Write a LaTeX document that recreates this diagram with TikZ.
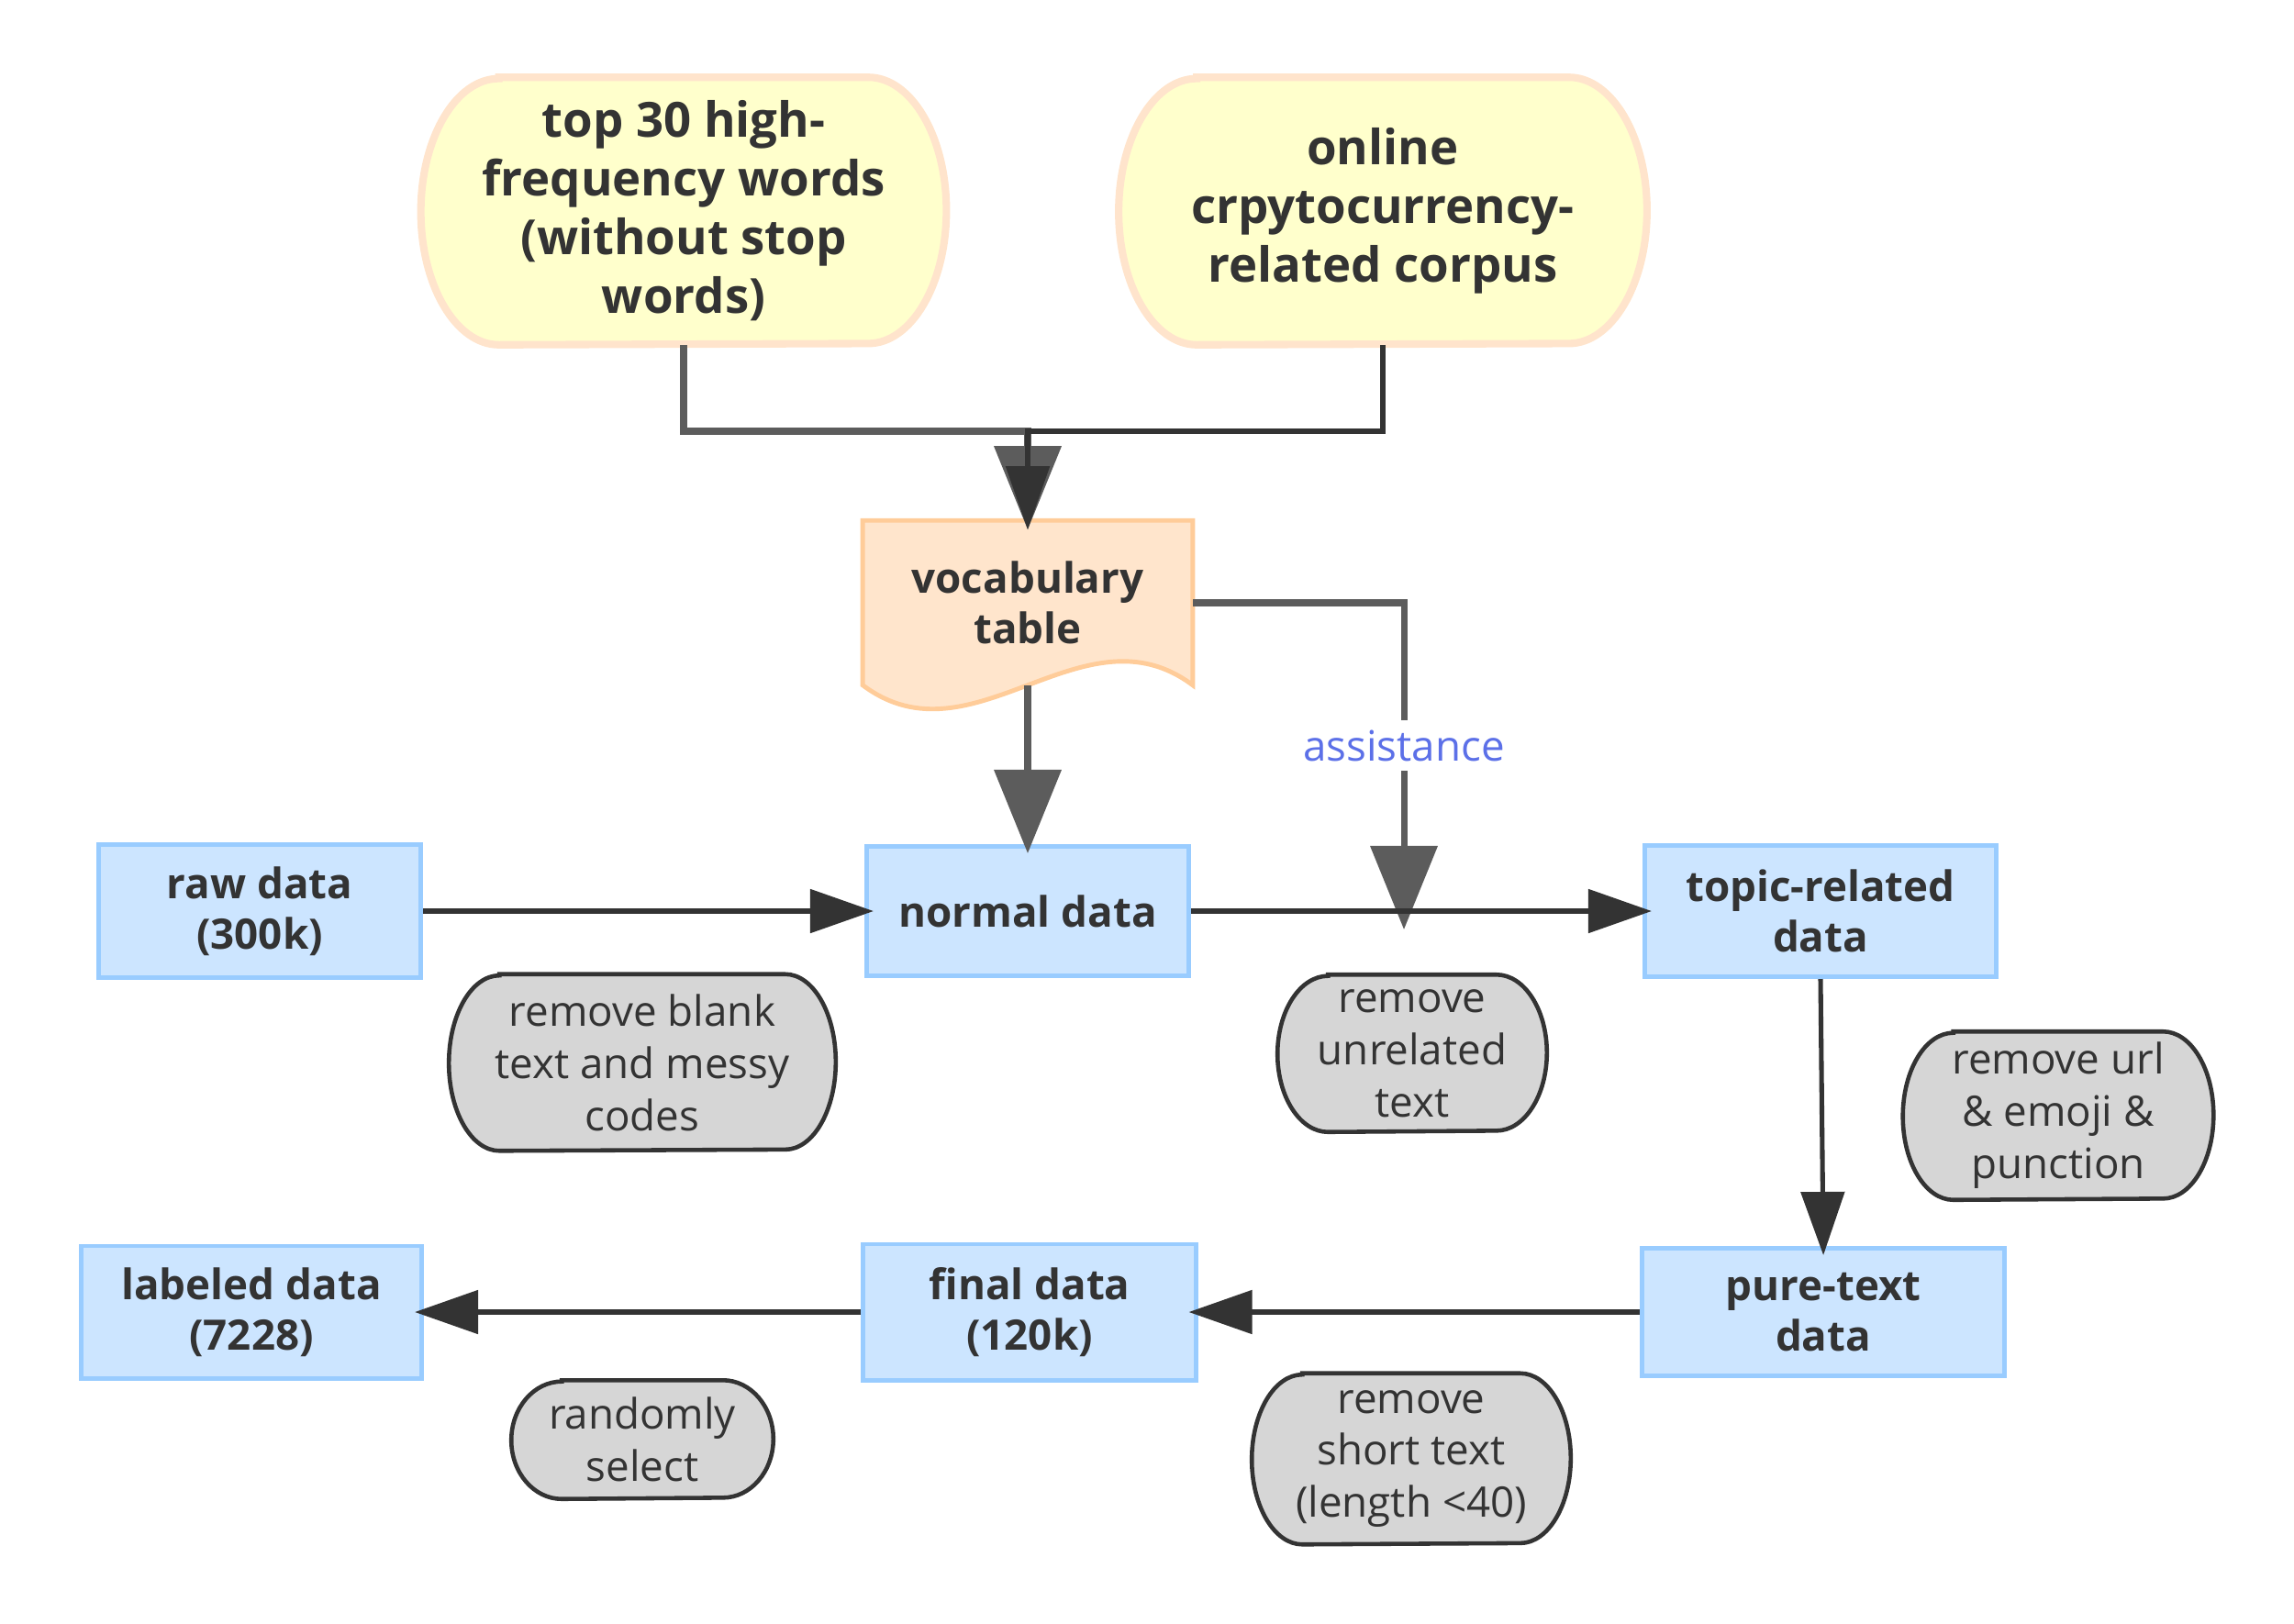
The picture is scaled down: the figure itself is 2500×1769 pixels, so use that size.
\documentclass[tikz,border=0pt]{standalone}
\usepackage{fontspec}
\setmainfont{Open Sans}
\usetikzlibrary{arrows.meta, backgrounds}
\definecolor{txt}{HTML}{333333}
\definecolor{edgegrey}{HTML}{5C5C5C}
\definecolor{bluefill}{HTML}{CCE5FF}
\definecolor{blueline}{HTML}{99CCFF}
\definecolor{yellowfill}{HTML}{FFFFCC}
\definecolor{peachline}{HTML}{FFE4CC}
\definecolor{docfill}{HTML}{FFE5CC}
\definecolor{docline}{HTML}{FFCC99}
\definecolor{greyfill}{HTML}{D6D6D6}
\definecolor{labelblue}{HTML}{5C70E8}

\begin{document}
\begin{tikzpicture}[x=0.01cm, y=-0.01cm, text=txt,
  databox/.style = {draw=blueline, fill=bluefill, line width=1.4pt, align=center,
    font=\fontsize{13}{15.6}\selectfont\bfseries},
  srcbox/.style = {align=center, font=\fontsize{15}{18.2}\selectfont\bfseries},
  srcshape/.style = {draw=peachline, fill=yellowfill, line width=2.3pt},
  notebox/.style = {align=center, inner sep=0pt, font=\fontsize{13}{16.2}\selectfont},
  noteshape/.style = {draw=txt, fill=greyfill, line width=1.3pt},
  darkline/.style = {draw=txt, line width=1.45pt, shorten >=-0.1cm, -{Triangle[length=0.69cm, width=0.47cm]}},
  greyline/.style = {draw=edgegrey, line width=2pt, shorten >=-0.1cm, -{Triangle[length=0.91cm, width=0.72cm]}}]
\useasboundingbox (0,0) rectangle (2500,1769);

% sources
\node[srcbox, minimum width=5.71cm, minimum height=2.9cm] (src1) at (745,230) {top 30 high-\\frequency words\\(without stop\\words)};
\node[srcbox, minimum width=5.74cm, minimum height=2.9cm] (src2) at (1507,230) {online\\crpytocurrency-\\related corpus};

% vocabulary table
\node[align=center, minimum width=3.58cm, minimum height=1.78cm,
  font=\fontsize{13}{15.6}\selectfont\bfseries] (vocab) at (1120,657) {vocabulary\\table};

% data
\node[databox, minimum width=3.51cm, minimum height=1.45cm] (raw) at (283,993) {raw data\\(300k)};
\node[databox, minimum width=3.51cm, minimum height=1.41cm] (normal) at (1120,993) {normal data};
\node[databox, minimum width=3.83cm, minimum height=1.43cm] (topic) at (1984,993) {topic-related\\data};
\node[databox, minimum width=3.95cm, minimum height=1.39cm] (pure) at (1987,1430) {pure-text\\data};
\node[databox, minimum width=3.62cm, minimum height=1.48cm] (final) at (1122,1430) {final data\\(120k)};
\node[databox, minimum width=3.71cm, minimum height=1.44cm] (labeled) at (274,1430) {labeled data\\(7228)};

% notes
\node[notebox, minimum width=4.2cm, minimum height=1.91cm] (n1) at (700,1158) {remove blank\\text and messy\\codes};
\node[notebox, minimum width=2.92cm, minimum height=1.7cm] (n2) at (1539,1148) {remove\\unrelated\\text};
\node[notebox, minimum width=3.37cm, minimum height=1.82cm] (n3) at (2243,1216) {remove url\\\& emoji \&\\punction};
\node[notebox, minimum width=2.84cm, minimum height=1.28cm] (n4) at (700,1569) {randomly\\select};
\node[notebox, minimum width=3.46cm, minimum height=1.85cm] (n5) at (1538,1590) {remove\\short text\\(length <40)};

% shapes behind the text
\begin{pgfonlayer}{background}
\begin{scope}[x=1cm, y=1cm]
\foreach \n/\h in {src1/1.45, src2/1.45}
  \filldraw[srcshape] ([xshift=0.85cm]\n.north west) -- ([xshift=-0.85cm]\n.north east)
    arc[start angle=90, end angle=-90, x radius=0.85, y radius=\h] -- ([xshift=0.85cm]\n.south west)
    arc[start angle=270, end angle=90, x radius=0.85, y radius=\h] -- cycle;
\foreach \n/\h in {n1/0.955, n2/0.85, n3/0.91, n4/0.64, n5/0.925}
  \filldraw[noteshape] ([xshift=0.55cm]\n.north west) -- ([xshift=-0.55cm]\n.north east)
    arc[start angle=90, end angle=-90, x radius=0.55, y radius=\h] -- ([xshift=0.55cm]\n.south west)
    arc[start angle=270, end angle=90, x radius=0.55, y radius=\h] -- cycle;
\end{scope}
\filldraw[fill=docfill, draw=docline, line width=1.4pt] (vocab.south west) -- (vocab.north west) -- (vocab.north east) -- (vocab.south east)
  .. controls +(-120,-90) and +(120,90) .. (vocab.south west) -- cycle;
\end{pgfonlayer}

\coordinate (m) at (1120,470);
\coordinate (a) at (1530,1003);

\draw[greyline] (src1.south) |- (m) -- (vocab.north);
\draw[darkline] (src2.south) |- (m) -- (vocab.north);
\draw[greyline] (vocab.south) -- (normal.north);
\draw[greyline] (vocab.east) -| node[pos=0.725, fill=white, inner sep=3pt, text=labelblue,
  font=\fontsize{13}{15.6}\selectfont] {assistance} (a);
\draw[darkline] (raw.east) -- (normal.west);
\draw[darkline] (normal.east) -- (topic.west);
\draw[darkline] (topic.south) -- (pure.north);
\draw[darkline] (pure.west) -- (final.east);
\draw[darkline] (final.west) -- (labeled.east);
\end{tikzpicture}
\end{document}
